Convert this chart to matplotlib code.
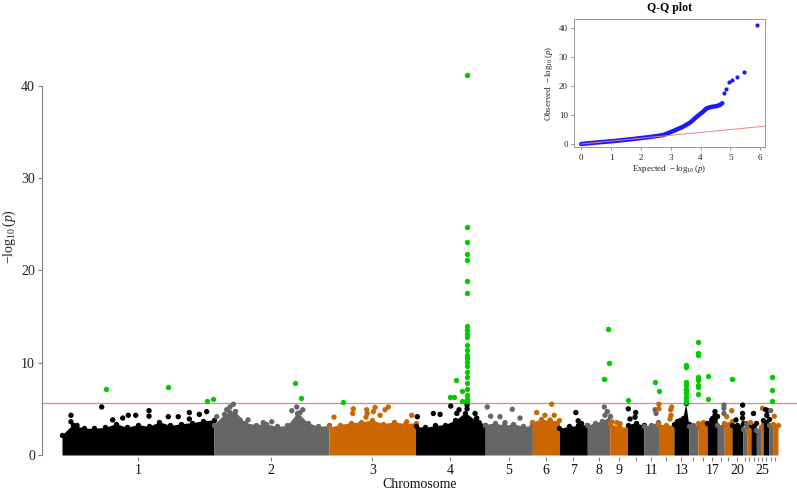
import numpy as np
import matplotlib
matplotlib.use('Agg')
import matplotlib.pyplot as plt

plt.rcParams['font.family'] = ['Liberation Serif', 'DejaVu Serif']
plt.rcParams['mathtext.fontset'] = 'custom'
plt.rcParams['mathtext.rm'] = 'Liberation Serif'
plt.rcParams['mathtext.it'] = 'Liberation Serif:italic'
plt.rcParams['mathtext.bf'] = 'Liberation Serif:bold'

# ---------------- data ----------------
chromosomes = ['1', '2', '3', '4', '5', '6', '7', '8', '9', '10', '11', '12', '13', '14', '15',
               '17', '18', '19', '20', '21', '22', '23', '24', '25', '26', '27', '28']
chrom_lengths = [196, 149, 112, 90, 61, 35, 36, 29, 23, 21, 19, 20, 19, 12, 12,
                 13, 9, 10, 14, 5.5, 5, 7, 5.5, 3.5, 7, 5, 7]
shown_labels = ['1', '2', '3', '4', '5', '6', '7', '8', '9', '11', '13', '17', '20', '25']

# upper edge of the dense cloud of SNPs, evenly spaced along each chromosome
cloud_tops = [
    [2.2, 3.3, 2.9, 2.9, 3.0, 3.4, 3.0, 3.3, 3.1, 3.6, 3.2, 3.4, 3.5, 3.7, 3.8],
    [3.3, 4.4, 4.8, 3.5, 3.3, 3.4, 3.1, 3.2, 4.6, 3.5, 3.1, 3.2],
    [3.0, 3.3, 3.5, 3.6, 3.8, 3.4, 3.6, 3.4, 3.5],
    [3.1, 3.0, 3.2, 3.3, 3.8, 4.6, 3.8, 3.3],
    [3.3, 3.5, 3.2, 3.4, 3.1, 3.2],
    [3.6, 3.9, 3.7, 3.8],
    [2.9, 3.1, 3.2, 3.3],
    [3.2, 3.5, 3.7, 4.2],
    [3.4, 3.1, 3.0],
    [3.3, 3.5, 3.2],
    [3.1, 3.3, 3.6],
    [3.4, 3.2, 3.3],
    [3.4, 3.7, 3.8, 4.0, 5.6, 3.4],
    [3.1, 3.2, 3.0],
    [3.5, 3.6, 3.4],
    [3.5, 4.0, 4.2],
    [3.2, 3.4],
    [3.5, 3.7],
    [3.3, 3.2, 3.5],
    [2.8, 3.0],
    [2.6, 3.0],
    [3.3, 3.5],
    [2.7, 3.0],
    [3.0, 3.4],
    [3.8, 3.9],
    [3.3, 3.2],
    [3.4, 3.2],
]

# individual SNPs standing above the cloud (below threshold)
dot_chrom = ['1'] * 16 + ['2'] * 14 + ['3'] * 13 + ['4'] * 11 + ['5'] * 6 + ['6'] * 5 + ['7'] * 3 + \
            ['8'] * 3 + ['9'] * 3 + ['10'] * 4 + ['11'] * 2 + ['12'] * 6 + ['17'] * 3 + ['18'] * 3 + \
            ['19'] * 2 + ['20'] * 4 + ['21', '22', '23', '25', '26', '26', '26', '27', '28']
dot_pos = [11.6, 11.6, 19.4, 51.3, 65.5, 78.5, 85.7, 95.3, 112.5, 112.5, 137.4, 150.3, 164.6, 164.6, 177.5, 187.0,
           4.0, 16.9, 21.2, 25.5, 21.2, 34.1, 44.5, 64.2, 75.1, 101.0, 107.4, 109.1, 111.7, 115.2,
           6.6, 31.5, 30.8, 48.9, 49.6, 48.0, 59.6, 57.4, 76.8, 72.5, 66.1, 107.0, 100.6,
           2.3, 23.0, 31.7, 45.5, 56.2, 53.3, 76.9, 82.3, 79.1, 66.6, 66.6,
           2.7, 7.1, 19.1, 25.6, 35.0, 45.0,
           5.6, 16.3, 24.9, 28.3, 22.8,
           21.2, 24.2, 28.6,
           22.0, 25.9, 22.9,
           2.6, 9.0, 13.3,
           1.0, 10.6, 9.7, 3.2,
           14.6, 15.9,
           0.6, 0.6, 17.0, 15.8, 16.2, 14.9,
           10.1, 10.1, 5.8,
           8.6, 8.6, 8.6,
           9.7, 3.2,
           13.8, 13.8, 13.6, 5.2,
           5.0, 4.5, 3.3, 2.5, 3.2, 5.5, 4.5, 2.5, 2.2]
dot_value = [4.3, 3.6, 3.2, 5.2, 3.8, 4.0, 4.3, 4.3, 4.8, 4.2, 4.15, 4.15, 4.6, 3.9, 4.4, 4.7,
             4.15, 4.9, 5.2, 5.5, 4.6, 3.8, 3.8, 3.5, 3.6, 4.8, 5.2, 4.2, 4.6, 4.9,
             4.1, 5.0, 4.5, 4.9, 4.5, 4.1, 5.15, 4.7, 5.2, 4.9, 4.3, 4.3, 3.6,
             4.15, 4.5, 4.4, 5.3, 4.9, 4.5, 4.5, 3.5, 4.0, 5.4, 5.0,
             5.2, 4.2, 4.15, 3.5, 4.95, 4.0,
             4.6, 4.3, 5.5, 4.3, 3.8,
             4.6, 3.7, 3.4,
             5.2, 4.7, 4.3,
             3.6, 3.5, 3.4,
             5.0, 4.6, 4.1, 3.9,
             4.9, 4.5,
             5.5, 5.0, 5.2, 4.9, 4.3, 3.9,
             4.7, 4.3, 3.8,
             5.4, 5.05, 4.5,
             4.8, 4.15,
             5.4, 4.5, 4.0, 3.8,
             3.4, 3.5, 4.5, 5.05, 4.9, 4.8, 4.3, 4.8, 4.2]

# genome-wide significant SNPs
hit_chrom = ['1', '1', '1', '1', '2', '2', '3'] + ['4'] * 29 + ['8'] * 3 + ['10', '11', '12'] + \
            ['13'] * 10 + ['15'] * 8 + ['17', '17', '20', '27', '27', '27']
hit_pos = [56.9, 137.0, 187.0, 195.5, 105.2, 113.0, 18.6] + \
          [44.6, 49.8, 52.3, 59.7, 59.7] + [66.1] * 24 + \
          [26.4, 27.7, 22.0, 1.0, 15.0, 0.7] + [15.6] * 10 + [0.2] * 8 + \
          [0.6, 0.6, 0.5, 3.6, 3.6, 3.6]
hit_value = [7.2, 7.4, 5.85, 6.1, 7.8, 6.2, 5.7] + \
            [6.3, 6.25, 8.1, 6.9, 5.8] + \
            [41.2, 24.7, 23.1, 21.8, 21.1, 18.8, 17.5, 14.0, 13.5, 13.1, 12.8, 11.9, 11.4, 10.8,
             10.5, 10.1, 9.6, 9.0, 8.5, 7.8, 7.2, 6.5, 6.1, 5.8] + \
            [13.6, 10.0, 8.2, 6.0, 7.95, 6.9] + \
            [9.75, 9.5, 7.95, 7.6, 7.2, 7.0, 6.7, 6.3, 5.95, 5.7] + \
            [12.2, 11.0, 10.8, 8.4, 8.1, 7.6, 7.4, 6.65] + \
            [8.6, 6.1, 8.2, 8.5, 7.0, 5.8]

threshold = 5.6

# Q-Q plot
qq_expected_curve = [0.0, 0.5, 1.08, 1.5, 1.97, 2.4, 2.75, 3.09, 3.42, 3.65, 3.87, 4.09, 4.2, 4.35, 4.54, 4.65, 4.73]
qq_observed_curve = [0.0, 0.5, 1.0, 1.45, 2.0, 2.55, 3.1, 4.5, 6.0, 7.4, 9.4, 11.2, 12.3, 12.8, 13.1, 13.5, 14.1]
qq_expected_top = [4.78, 4.86, 4.94, 5.06, 5.21, 5.44, 5.9]
qq_observed_top = [17.8, 19.0, 21.5, 22.1, 23.3, 25.0, 41.2]

palette = ['#000000', '#666666', '#CC6600']
hit_color = '#00CC00'

# ---------------- figure ----------------
W, H = 797, 490
fig = plt.figure(figsize=(W / 100, H / 100), dpi=100)

ax_bottom_px, ax_top_px = 457, 20
ax = fig.add_axes([42 / W, 1 - ax_bottom_px / H, (W - 42) / W, (ax_bottom_px - ax_top_px) / H])
ax.patch.set_alpha(0)

starts = np.concatenate([[0], np.cumsum(chrom_lengths)[:-1]])
total = float(np.sum(chrom_lengths))
start_of = dict(zip(chromosomes, starts))
k = (778 - 62) / total  # px per Mb
ax.set_xlim(-20 / k, total + 19 / k)
py_per_unit = (455 - 85.7) / 40
ax.set_ylim(-(ax_bottom_px - 455) / py_per_unit, (455 - ax_top_px) / py_per_unit)

ms = 15
centers = []
for i, (c, L, tops) in enumerate(zip(chromosomes, chrom_lengths, cloud_tops)):
    s = starts[i]
    xs = np.linspace(s, s + L, len(tops))
    col = palette[i % 3]
    ax.fill_between(xs, 0, tops, color=col, lw=0, zorder=2)
    ax.scatter(xs, tops, s=ms, color=col, lw=0, zorder=2)
    centers.append(s + L / 2)

col_of = {c: palette[i % 3] for i, c in enumerate(chromosomes)}
dx = [start_of[c] + p for c, p in zip(dot_chrom, dot_pos)]
ax.scatter(dx, dot_value, s=ms, c=[col_of[c] for c in dot_chrom], lw=0, zorder=3)

ax.axhline(threshold, color='#EE8080', lw=0.9, zorder=1)

hx = [start_of[c] + p for c, p in zip(hit_chrom, hit_pos)]
ax.scatter(hx, hit_value, s=ms, color=hit_color, lw=0, zorder=4)

# axes styling
for sp in ['top', 'right', 'bottom']:
    ax.spines[sp].set_visible(False)
ax.spines['left'].set_bounds(0, 40)
ax.spines['left'].set_color('#808080')
ax.spines['left'].set_linewidth(0.8)
ax.set_yticks([0, 10, 20, 30, 40])
ax.tick_params(axis='y', length=3, width=0.8, color='#808080', labelsize=10, pad=2, labelcolor='#222222')
ax.set_xticks(centers)
ax.set_xticklabels([c if c in shown_labels else '' for c in chromosomes])
ax.tick_params(axis='x', length=3, width=0.8, color='#808080', labelsize=10, pad=2, labelcolor='#111111')
ax.set_xlabel('Chromosome', fontsize=10, labelpad=1, color='#111111')
fig.text(9.5 / W, 1 - 237 / H, r'$-\log_{10}(p)$', rotation=90, ha='center', va='center',
         fontsize=10, color='#222222')

# ---------------- Q-Q inset ----------------
axq = fig.add_axes([574 / W, 1 - 147.3 / H, (765 - 574) / W, (147.3 - 19.3) / H])
axq.set_xlim(-0.24, 6.16)
axq.set_ylim(-1.14, 43.1)
axq.plot(qq_expected_curve, qq_observed_curve, color='#1A1AFF', lw=3.2, solid_capstyle='round',
         solid_joinstyle='round', zorder=2)
axq.scatter(qq_expected_top, qq_observed_top, s=9, color='#1A1AFF', lw=0, zorder=2)
axq.plot([0, 6.2], [0, 6.2], color='#F08080', lw=0.7, zorder=3)
for sp in axq.spines.values():
    sp.set_color('#999999')
    sp.set_linewidth(0.7)
axq.set_xticks([0, 1, 2, 3, 4, 5, 6])
axq.set_yticks([0, 10, 20, 30, 40])
axq.tick_params(length=2.5, width=0.6, color='#808080', labelsize=6.5, pad=2, labelcolor='#222222')
axq.set_xlabel(r'Expected  $-\log_{10}(p)$', fontsize=6.5, labelpad=1, color='#222222')
axq.set_ylabel(r'Observed  $-\log_{10}(p)$', fontsize=6.5, labelpad=3, color='#222222')
fig.text(669.5 / W, 1 - 7.5 / H, 'Q-Q plot', ha='center', va='center', fontsize=8.5, fontweight='bold')

fig.savefig('out.png', dpi=100)
